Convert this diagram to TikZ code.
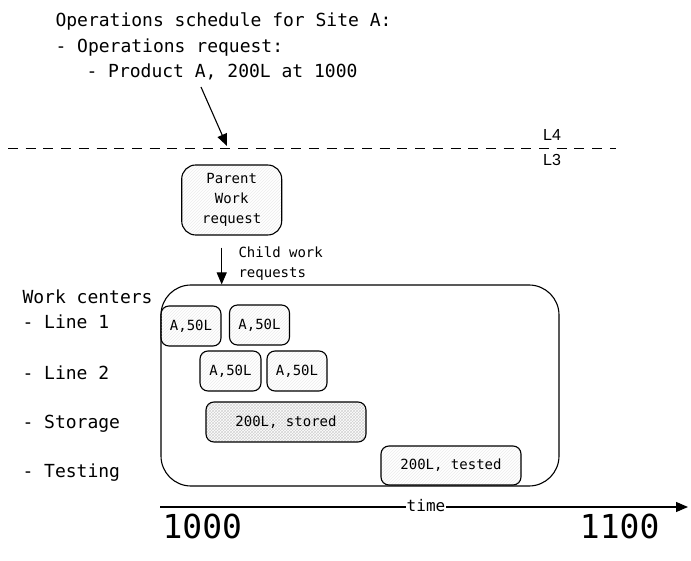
\documentclass[tikz,border=0pt]{standalone}
\usepackage{fontspec}
\setmainfont{DejaVu Sans Mono}
\newfontfamily\sansL{Liberation Sans}
\usetikzlibrary{arrows.meta,patterns}
\begin{document}
\begin{tikzpicture}[x=1pt,y=-1pt,line width=1.1pt,
  big/.style={font=\fontsize{18}{22}\selectfont},
  smalltxt/.style={font=\fontsize{14}{20}\selectfont},
  huge/.style={font=\fontsize{33}{36}\selectfont},
  lvl/.style={font=\sansL\fontsize{16}{18}\selectfont},
  wbox/.style={draw,rounded corners=#1,inner sep=0pt,pattern=north east lines,pattern color=gray!15,
    font=\fontsize{14}{20}\selectfont,align=center},
  arr/.style={-{Triangle[length=12pt,width=10pt]}},
]
\useasboundingbox (0,0) rectangle (691,561);

% title text
\node[big,anchor=base west,inner sep=0pt] (t1) at (55,27) {Operations schedule for Site A:};
\node[big,anchor=base west,inner sep=0pt] (t2) at (55,53) {- Operations request:};
\node[big,anchor=base west,inner sep=0pt] (t3) at (86,78) {- Product A, 200L at 1000};

\coordinate (reqfrom) at (201,87);
\coordinate (l4in) at (227,146);
\draw[arr] (reqfrom) -- (l4in);

% L4 / L3 boundary
\coordinate (dl) at (8,148);
\coordinate (dr) at (616,148);
\draw[line width=0.9pt,dash pattern=on 10pt off 7.7pt] (dl) -- (dr);
\node[lvl] (l4) at (552,135) {L4};
\node[lvl] (l3) at (552,160) {L3};

% parent work request
\node[wbox=14pt,minimum width=100pt,minimum height=70pt] (parent) at (231.7,200) {Parent\\Work\\request};

% big work center box
\node[draw,rounded corners=30pt,minimum width=398pt,minimum height=201pt,inner sep=0pt] (wc) at (360,385.5) {};

\draw[arr] ([shift={(-10,12)}]parent.south) -- ([xshift=-10pt]parent.south |- wc.north);
\node[smalltxt,anchor=base west,inner sep=0pt] (c1) at (238,258) {Child work};
\node[smalltxt,anchor=base west,inner sep=0pt] (c2) at (238,278) {requests};

% work center labels
\node[big,anchor=base west,inner sep=0pt] (w0) at (22,304) {Work centers};
\node[big,anchor=base west,inner sep=0pt] (w1) at (22,329) {- Line 1};
\node[big,anchor=base west,inner sep=0pt] (w2) at (22,379) {- Line 2};
\node[big,anchor=base west,inner sep=0pt] (w3) at (22,428) {- Storage};
\node[big,anchor=base west,inner sep=0pt] (w4) at (22,477) {- Testing};

% schedule boxes
\node[wbox=8pt,minimum width=60pt,minimum height=40pt] (a1) at (191,326) {A,50L};
\node[wbox=8pt,minimum width=60pt,minimum height=40pt] (a2) at (259.5,325) {A,50L};
\node[wbox=8pt,minimum width=61pt,minimum height=40pt] (b1) at (230.5,371) {A,50L};
\node[wbox=8pt,minimum width=60pt,minimum height=40pt] (b2) at (297,371) {A,50L};
\node[wbox=8pt,minimum width=160pt,minimum height=40pt,pattern=crosshatch,pattern color=gray!35] (st) at (286,422) {200L, stored};
\node[wbox=8pt,minimum width=140pt,minimum height=39pt] (te) at (451,465.5) {200L, tested};

% time axis
\coordinate (tax0) at (160,507);
\coordinate (tax1) at (688,507);
\draw[arr] (tax0) -- (tax1);
\node[fill=white,inner sep=1pt,font=\fontsize{16}{18}\selectfont] (time) at (426,506) {time};
\node[huge,anchor=base west,inner sep=0pt] (n0) at (162,538) {1000};
\node[huge,anchor=base east,inner sep=0pt] (n1) at (660,538) {1100};
\end{tikzpicture}
\end{document}
